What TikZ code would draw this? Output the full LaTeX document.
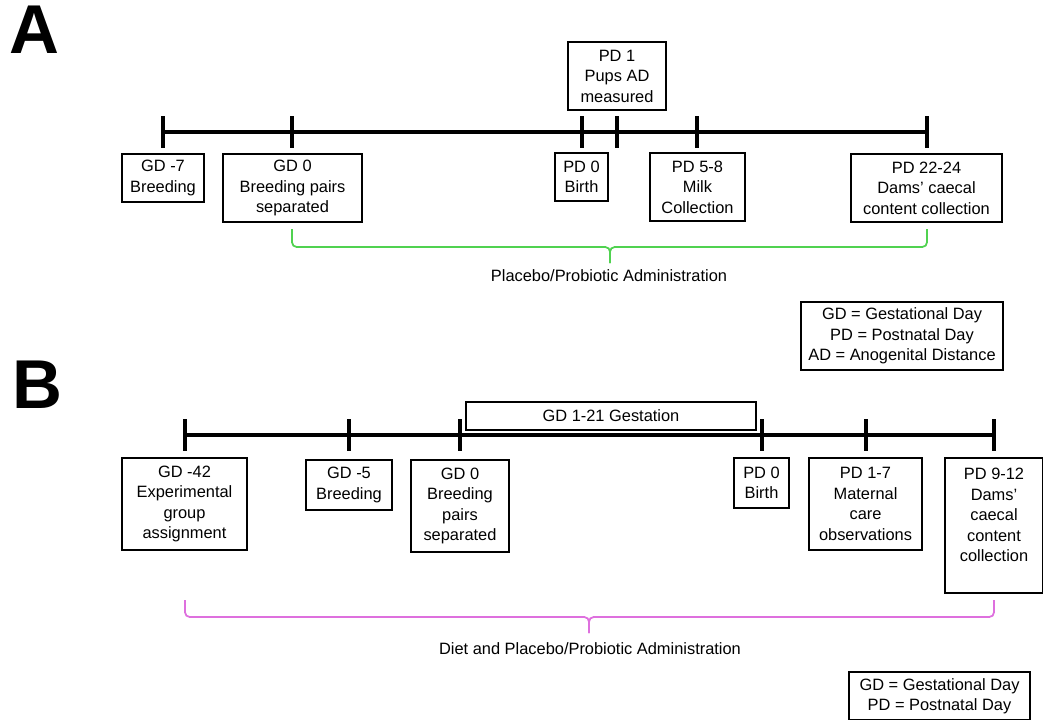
\documentclass[tikz,border=0pt]{standalone}
\usepackage{fontspec}
\setmainfont{Liberation Sans}
\usetikzlibrary{positioning}
\definecolor{admgreen}{RGB}{80,210,80}
\definecolor{admpink}{RGB}{222,112,222}

\begin{document}
\begin{tikzpicture}[x=0.03cm, y=-0.03cm, black, line width=1.1pt,
    evbox/.style={draw, align=center, inner sep=0pt, font=\fontsize{14}{17.5}\selectfont},
    tline/.style={line width=2.6pt},
    brace/.style={line width=1.5pt, rounded corners=4pt},
    lbl/.style={font=\fontsize{14}{17.5}\selectfont},
    panel/.style={font=\bfseries\fontsize{59}{60}\selectfont},]

    \clip (0,0) rectangle (1043,719);

    % panel A
    \node[panel] (pA) at (34,30) {A};

    \foreach \n/\x in {a1/163, a2/292, a3/582, a4/617, a5/697, a6/927}
        \coordinate (\n) at (\x,132);
    \draw[tline] (a1) -- (a6);
    \foreach \n in {a1,a2,a3,a4,a5,a6}
        \draw[tline] ([yshift=0.48cm]\n) -- ([yshift=-0.48cm]\n);

    \node (pd1A)  at (617,76)    [evbox, minimum width=2.94cm, minimum height=2.04cm] {PD 1\\Pups AD\\measured};
    \node (gdm7)  at (163,178)   [evbox, minimum width=2.46cm, minimum height=1.44cm] {GD -7\\Breeding};
    \node (gd0A)  at (292.5,188) [evbox, minimum width=4.17cm, minimum height=2.04cm] {GD 0\\Breeding pairs\\separated};
    \node (pd0A)  at (581.5,177) [evbox, minimum width=1.59cm, minimum height=1.44cm] {PD 0\\Birth};
    \node (pd58)  at (697.5,187) [evbox, minimum width=2.85cm, minimum height=2.04cm] {PD 5-8\\Milk\\Collection};
    \node (pd22)  at (926.5,188) [evbox, minimum width=4.53cm, minimum height=2.04cm] {PD 22-24\\Dams’ caecal\\content collection};

    \coordinate (gA1) at (292,229);
    \coordinate (gA2) at (927,229);
    \coordinate (gAm) at (610,247);
    \coordinate (gAt) at (610,263);
    \draw[admgreen, brace] (gA1) |- (gAm) -- (gAt);
    \draw[admgreen, brace] (gAt) -- (gAm) -| (gA2);
    \node[lbl] (admA) at (609,276) {Placebo/Probiotic Administration};

    \node (keyA) at (902,336) [evbox, minimum width=6.06cm, minimum height=2.04cm] {GD = Gestational Day\\PD = Postnatal Day\\AD = Anogenital Distance};

    % panel B
    \node[panel] (pB) at (37,385) {B};

    \foreach \n/\x in {b1/185, b2/349, b3/460, b4/762, b5/866, b6/994}
        \coordinate (\n) at (\x,435);
    \draw[tline] (b1) -- (b6);
    \foreach \n in {b1,b2,b3,b4,b5,b6}
        \draw[tline] ([yshift=0.48cm]\n) -- ([yshift=-0.48cm]\n);

    \node (gest)  at (611,416)   [evbox, minimum width=8.7cm,  minimum height=0.84cm] {GD 1-21 Gestation};
    \node (gdm42) at (184.5,504) [evbox, minimum width=3.75cm, minimum height=2.76cm] {GD -42\\Experimental\\group\\assignment};
    \node (gdm5)  at (349,485)   [evbox, minimum width=2.58cm, minimum height=1.5cm]  {GD -5\\Breeding};
    \node (gd0B)  at (460,506)   [evbox, minimum width=2.94cm, minimum height=2.76cm] {GD 0\\Breeding\\pairs\\separated};
    \node (pd0B)  at (761.5,483) [evbox, minimum width=1.65cm, minimum height=1.5cm]  {PD 0\\Birth};
    \node (pd17)  at (865.5,504) [evbox, minimum width=3.39cm, minimum height=2.76cm] {PD 1-7\\Maternal\\care\\observations};
    \node (pd912) at (994,525.5) [evbox, minimum width=2.94cm, minimum height=4.05cm] {PD 9-12\\Dams’\\caecal\\content\\collection\\\mbox{}};

    \coordinate (mB1) at (185,600);
    \coordinate (mB2) at (994,600);
    \coordinate (mBm) at (589,617);
    \coordinate (mBt) at (589,633);
    \draw[admpink, brace] (mB1) |- (mBm) -- (mBt);
    \draw[admpink, brace] (mBt) -- (mBm) -| (mB2);
    \node[lbl] (admB) at (590,649) {Diet and Placebo/Probiotic Administration};

    \node (keyB) at (939.5,696) [evbox, minimum width=5.43cm, minimum height=1.44cm] {GD = Gestational Day\\PD = Postnatal Day};

\end{tikzpicture}
\end{document}
